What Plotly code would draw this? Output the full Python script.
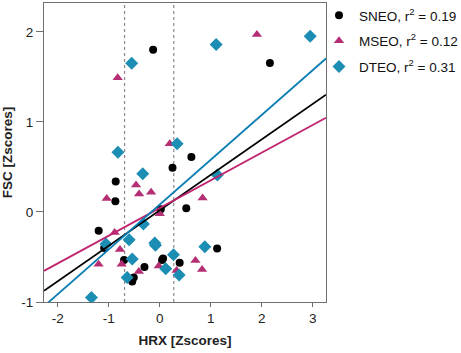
import plotly.graph_objects as go
import numpy as np

# ---- data ----
sneo_x = [-0.13, 2.16, 0.62, 0.25, -0.864, -0.87, -1.198, 0.52, -0.70, -0.51, -0.54, -0.30,
          0.065, 0.045, 0.39, 1.125, -1.09, 0.02]
sneo_y = [1.80, 1.655, 0.61, 0.49, 0.337, 0.118, -0.208, 0.04, -0.535, -0.728, -0.773, -0.61,
          -0.517, -0.535, -0.565, -0.405, -0.40, 0.03]

mseo_x = [1.905, -0.825, 0.196, -0.465, -0.405, -0.17, -1.04, 0.0, -0.884, 0.84, -1.2, -0.78,
          -0.747, -0.41, -0.02, 0.33, 0.70, 0.83]
mseo_y = [1.97, 1.49, 0.757, 0.30, 0.20, 0.22, 0.15, -0.02, -0.227, 0.156, -0.58, -0.416,
          -0.58, -0.66, -0.60, -0.65, -0.54, -0.64]

dteo_x = [2.95, 1.106, -0.55, -0.82, 0.34, -0.334, -0.32, 1.13, -1.055, -0.54, -0.64, -0.098,
          -0.085, 0.118, -1.34, 0.27, 0.38, 0.884, -0.60]
dteo_y = [1.95, 1.86, 1.65, 0.664, 0.757, 0.423, -0.134, 0.41, -0.356, -0.523, -0.728, -0.345,
          -0.37, -0.63, -0.95, -0.475, -0.70, -0.386, -0.31]

series_names = ["SNEO, r<sup>2</sup> = 0.19", "MSEO, r<sup>2</sup> = 0.12", "DTEO, r<sup>2</sup> = 0.31"]
fit_slope = [0.394, 0.3076, 0.4975]
fit_intercept = [0.018, 0.044, 0.082]

cutoffs_x = [-0.69, 0.275]

x_tickvals = [-2, -1, 0, 1, 2, 3]
x_ticktext = ["-2", "-1", "0", "1", "2", "3"]
y_tickvals = [-1, 0, 1, 2]
y_ticktext = ["-1", "0", "1", "2"]

x_range = [-2.27, 3.26]
y_range = [-1.0, 2.32]

# ---- styling ----
FONT = "Liberation Sans, Arial, sans-serif"
marker_colors = ["#000000", "#B42E73", "#1C8DB3"]
line_colors = ["#000000", "#C0246F", "#0A7DB3"]
symbols = ["circle", "triangle-up", "diamond"]
sizes = [8, 9, 10]

fig = go.Figure()
xs = [sneo_x, mseo_x, dteo_x]
ys = [sneo_y, mseo_y, dteo_y]
for i in range(3):
    fig.add_trace(go.Scatter(
        x=xs[i], y=ys[i], mode="markers", name=series_names[i],
        legendgroup=f"g{i}",
        marker=dict(symbol=symbols[i], color=marker_colors[i], size=sizes[i], line=dict(width=0)),
    ))

xline = np.array(x_range)
for i in range(3):
    fig.add_trace(go.Scatter(
        x=xline, y=fit_intercept[i] + fit_slope[i] * xline, mode="lines",
        line=dict(color=line_colors[i], width=1.8), showlegend=False, hoverinfo="skip",
    ))

for cx in cutoffs_x:
    fig.add_shape(type="line", xref="x", yref="paper", x0=cx, x1=cx, y0=0, y1=1,
                  line=dict(color="#8a8a8a", width=1.2, dash="dot"), layer="below")

axis_common = dict(
    showgrid=False, zeroline=False, showline=True, mirror=True,
    linecolor="#707070", linewidth=1.2, ticks="outside",
    tickcolor="#707070", tickwidth=1.2,
    tickfont=dict(family=FONT, size=13.5, color="#222222"),
)

fig.update_layout(
    width=461, height=353,
    margin=dict(l=44, r=135, t=3, b=51, autoexpand=False),
    paper_bgcolor="white", plot_bgcolor="white",
    xaxis=dict(range=x_range, tickvals=x_tickvals, ticktext=x_ticktext, ticklen=4,
               title=dict(text="<b>HRX [Zscores]</b>", standoff=10,
                          font=dict(family=FONT, size=13.5, color="#222222")),
               **axis_common),
    yaxis=dict(range=y_range, tickvals=y_tickvals, ticktext=y_ticktext, ticklen=7,
               title=dict(text="<b>FSC [Zscores]</b>", standoff=6,
                          font=dict(family=FONT, size=13.5, color="#222222")),
               **axis_common),
    legend=dict(xref="container", yref="container", x=319 / 461, y=1.008,
                xanchor="left", yanchor="top",
                font=dict(family=FONT, size=13.5, color="#111111"),
                tracegroupgap=5, itemwidth=30, bgcolor="rgba(0,0,0,0)"),
    showlegend=True,
)

fig.write_html("out.html", config={"displayModeBar": False},
               post_script="document.body.style.margin='0';")
